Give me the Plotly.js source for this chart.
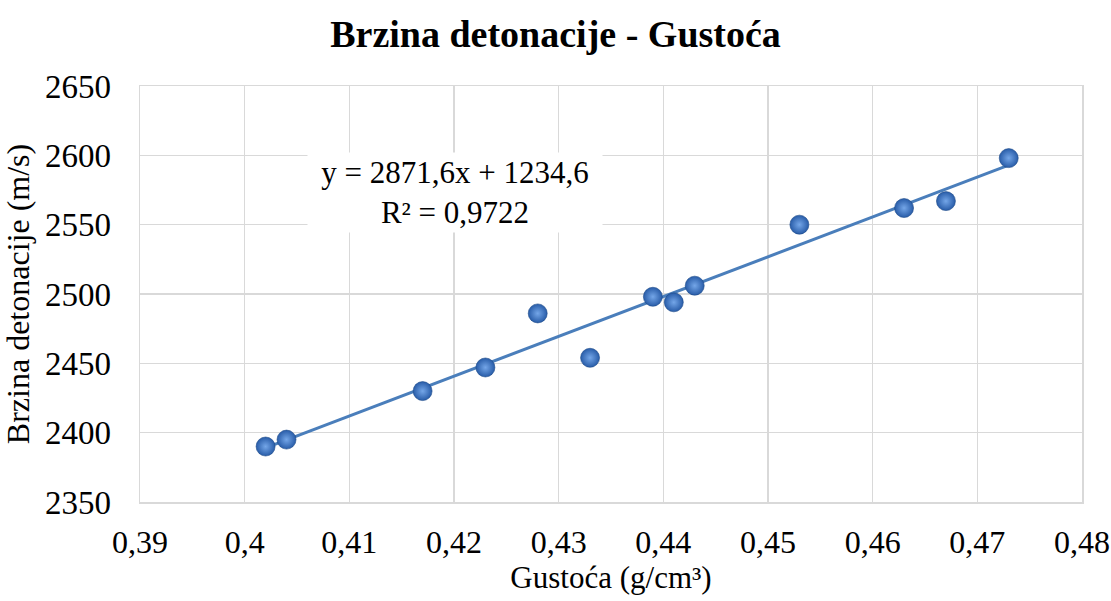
<!DOCTYPE html>
<html>
<head>
<meta charset="utf-8">
<script src="https://cdn.plot.ly/plotly-3.0.1.min.js"></script>
<style>html,body{margin:0;padding:0;background:#fff;}#chart{width:1111px;height:601px;}</style>
</head>
<body>
<div id="chart"></div>
<script>
// Data
const gustoca = [0.402, 0.404, 0.417, 0.423, 0.428, 0.433, 0.439, 0.441, 0.443, 0.453, 0.463, 0.467, 0.473];
const brzina  = [2390, 2395, 2430, 2447, 2486, 2454, 2498, 2494, 2506, 2550, 2562, 2567, 2598];
// Trendline coefficients (as printed on chart)
const slope = 2871.6;
const intercept = 1234.6;
const r2Text = "0,9722";
// Tick labels
const xTickVals = [0.39, 0.40, 0.41, 0.42, 0.43, 0.44, 0.45, 0.46, 0.47, 0.48];
const xTickText = ["0,39", "0,4", "0,41", "0,42", "0,43", "0,44", "0,45", "0,46", "0,47", "0,48"];
const yTickVals = [2350, 2400, 2450, 2500, 2550, 2600, 2650];
const yTickText = ["2350", "2400", "2450", "2500", "2550", "2600", "2650"];

const xMin = Math.min(...gustoca), xMax = Math.max(...gustoca);
const trendX = [xMin, xMax];
const trendY = trendX.map(x => slope * x + intercept);

const font = "Liberation Serif";
const grid = "#d9d9d9";

const traces = [
  {
    x: trendX, y: trendY, type: "scatter", mode: "lines",
    line: {color: "#4a7ebb", width: 3},
    hoverinfo: "skip", showlegend: false
  },
  {
    x: gustoca, y: brzina, type: "scatter", mode: "markers",
    marker: {
      size: 19,
      color: "#285ca8",
      gradient: {type: "radial", color: "#74a6e8"},
      line: {color: "#1f4b8a", width: 0.6}
    },
    showlegend: false
  }
];

const layout = {
  width: 1111, height: 601,
  paper_bgcolor: "#ffffff", plot_bgcolor: "#ffffff",
  margin: {l: 140, r: 29, t: 86, b: 99},
  font: {family: font, color: "#000000", size: 31},
  title: {
    text: "<b>Brzina detonacije - Gustoća</b>",
    font: {family: font, size: 38, color: "#000000"},
    x: 0.5, xanchor: "center", y: 1 - 34/601, yanchor: "middle", yref: "container"
  },
  xaxis: {
    range: [0.39, 0.48],
    tickvals: xTickVals, ticktext: xTickText,
    showgrid: true, gridcolor: grid, gridwidth: 1.5,
    zeroline: false, showline: true, mirror: true, linecolor: grid, linewidth: 1.5,
    ticks: "", ticklabelstandoff: 11,
    tickfont: {family: font, size: 32, color: "#000"},
    title: {text: "Gustoća (g/cm³)", font: {family: font, size: 31, color: "#000"}, standoff: 6}
  },
  yaxis: {
    range: [2350, 2650],
    tickvals: yTickVals, ticktext: yTickText,
    showgrid: true, gridcolor: grid, gridwidth: 1.5,
    zeroline: false, showline: true, mirror: true, linecolor: grid, linewidth: 1.5,
    ticks: "", ticklabelstandoff: 21,
    tickfont: {family: font, size: 33, color: "#000"},
    title: {text: "Brzina detonacije (m/s)", font: {family: font, size: 32, color: "#000"}, standoff: 6}
  },
  annotations: [{
    xref: "paper", yref: "paper",
    x: (455 - 140) / 942, y: (502 - 192) / 416,
    xanchor: "center", yanchor: "middle",
    text: "y = " + String(slope).replace(".", ",") + "x + " + String(intercept).replace(".", ",") + "<br>R² = " + r2Text,
    showarrow: false,
    font: {family: font, size: 31, color: "#000"},
    bgcolor: "#ffffff", borderpad: 2, width: 290, align: "center"
  }]
};

Plotly.newPlot("chart", traces, layout, {displayModeBar: false, staticPlot: true});
</script>
</body>
</html>
